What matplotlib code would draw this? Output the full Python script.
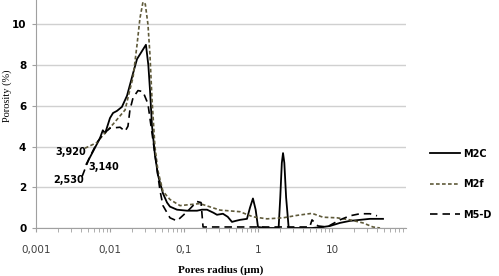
import matplotlib
matplotlib.use("Agg")
import matplotlib.pyplot as plt
from matplotlib.ticker import FixedLocator, FuncFormatter, LogLocator, NullFormatter

# pore radius (um) / porosity (%)
m2c_r = [0.0048, 0.0073, 0.0080, 0.0086, 0.0100, 0.0110, 0.0124, 0.0145, 0.0170,
         0.0205, 0.0232, 0.0306, 0.0330, 0.0347, 0.0370, 0.0405, 0.0445, 0.0520,
         0.0590, 0.0647, 0.0804, 0.110, 0.150, 0.175, 0.205, 0.250, 0.279, 0.336,
         0.390, 0.445, 0.500, 0.571, 0.710, 0.780, 0.855, 0.930, 1.00, 1.30, 1.90,
         2.00, 2.10, 2.18, 2.27, 2.40, 2.60, 5.37, 7.56, 9.40, 12.8, 17.5, 23.9,
         32.6, 41.9, 48.9]
m2c_p = [3.14, 4.40, 4.80, 4.65, 5.40, 5.65, 5.75, 5.95, 6.50,
         7.60, 8.30, 9.00, 8.00, 6.80, 5.00, 3.60, 2.60, 1.70,
         1.25, 1.05, 0.90, 0.85, 0.85, 0.90, 0.90, 0.75, 0.65, 0.70,
         0.55, 0.30, 0.35, 0.40, 0.45, 1.00, 1.45, 0.90, 0.05, 0.00, 0.00,
         1.50, 3.20, 3.68, 3.20, 1.50, 0.00, 0.00, 0.05, 0.10, 0.25, 0.35, 0.40,
         0.45, 0.45, 0.45]

m2f_r = [0.00459, 0.0067, 0.0080, 0.0110, 0.0160, 0.0186, 0.0205, 0.0232, 0.0254,
         0.0279, 0.0300, 0.0326, 0.0347, 0.0370, 0.0405, 0.0445, 0.0520, 0.0647,
         0.0883, 0.164, 0.306, 0.571, 0.855, 1.32, 2.18, 3.36, 5.37, 7.56, 11.7,
         17.5, 26.2, 35.8, 44.6]
m2f_p = [3.92, 4.20, 4.55, 5.10, 5.80, 6.80, 7.40, 9.00, 10.3,
         11.1, 11.0, 10.0, 8.50, 6.30, 4.00, 2.80, 1.80, 1.40,
         1.10, 1.20, 0.88, 0.80, 0.55, 0.45, 0.50, 0.62, 0.72, 0.53, 0.50,
         0.40, 0.25, 0.05, 0.00]

m5d_r = [0.0042, 0.0052, 0.0067, 0.0080, 0.0100, 0.0137, 0.0160, 0.0175, 0.0186,
         0.0205, 0.0239, 0.0279, 0.0326, 0.0370, 0.0474, 0.0520, 0.0647, 0.0804,
         0.110, 0.150, 0.170, 0.181, 0.500, 1.00, 5.00, 5.37, 6.47, 8.56, 12.8,
         17.5, 23.9, 32.6, 40.6]
m5d_p = [2.53, 3.40, 4.20, 4.60, 4.90, 4.95, 4.75, 5.00, 5.80,
         6.40, 6.75, 6.70, 6.10, 4.65, 1.85, 1.10, 0.50, 0.35,
         0.80, 1.30, 1.25, 0.05, 0.05, 0.05, 0.05, 0.40, 0.10, 0.05, 0.40,
         0.60, 0.70, 0.70, 0.60]

start_labels = ["3,920", "3,140", "2,530"]
x_ticks = [0.001, 0.01, 0.1, 1, 10]
x_ticklabels = ["0,001", "0,01", "0,1", "1", "10"]
y_ticks = [0, 2, 4, 6, 8, 10]

fig = plt.figure(figsize=(4.99, 2.76), dpi=100)
ax = fig.add_axes([0.0721, 0.1739, 0.7415, 0.8261])

ax.plot(m2c_r, m2c_p, color="black", lw=1.3, label="M2C")
ax.plot(m2f_r, m2f_p, color="#5f5a3a", lw=1.2, dashes=(2.2, 1.4), label="M2f")
ax.plot(m5d_r, m5d_p, color="black", lw=1.2, dashes=(4.5, 3.0), label="M5-D")

ax.set_xscale("log")
ax.set_xlim(0.001, 100)
ax.set_ylim(0, 11.2)

ax.xaxis.set_major_locator(FixedLocator(x_ticks))
ax.xaxis.set_major_formatter(FuncFormatter(lambda v, p: x_ticklabels[x_ticks.index(v)] if v in x_ticks else ""))
ax.xaxis.set_minor_locator(LogLocator(base=10, subs=range(2, 10)))
ax.xaxis.set_minor_formatter(NullFormatter())
ax.set_yticks(y_ticks)

ax.grid(axis="y", color="#d0d0d0", lw=1.0)
ax.set_axisbelow(True)
for side in ["top", "right"]:
    ax.spines[side].set_visible(False)
for side in ["left", "bottom"]:
    ax.spines[side].set_color("#a0a0a0")
ax.tick_params(axis="x", which="both", direction="out", length=3, color="#a0a0a0",
               labelsize=7.5, labelcolor="#404040", pad=9)
ax.tick_params(axis="y", length=3, color="#a0a0a0", labelsize=7.5, pad=4)
for lbl in ax.get_yticklabels():
    lbl.set_fontweight("bold")

ax.set_ylabel("Porosity (%)", family="Liberation Serif", fontsize=7.5)
ax.yaxis.set_label_coords(-0.065, 0.58)
ax.set_xlabel("Pores radius (µm)", family="Liberation Serif", fontsize=8,
              fontweight="bold", labelpad=8)

ax.text(m2f_r[0] * 1.03, 3.72, start_labels[0], ha="right", va="center",
        fontsize=7, fontweight="bold")
ax.text(m2c_r[0] * 1.07, 3.0, start_labels[1], ha="left", va="center",
        fontsize=7, fontweight="bold")
ax.text(m5d_r[0] * 1.05, 2.35, start_labels[2], ha="right", va="center",
        fontsize=7, fontweight="bold")

fig.legend(loc="center left", bbox_to_anchor=(0.862, 0.333), frameon=False,
           prop={"size": 7, "weight": "bold"}, handlelength=3.1,
           handletextpad=0.3, labelspacing=2.1, borderpad=0, borderaxespad=0)

fig.savefig("out.png", dpi=100)
